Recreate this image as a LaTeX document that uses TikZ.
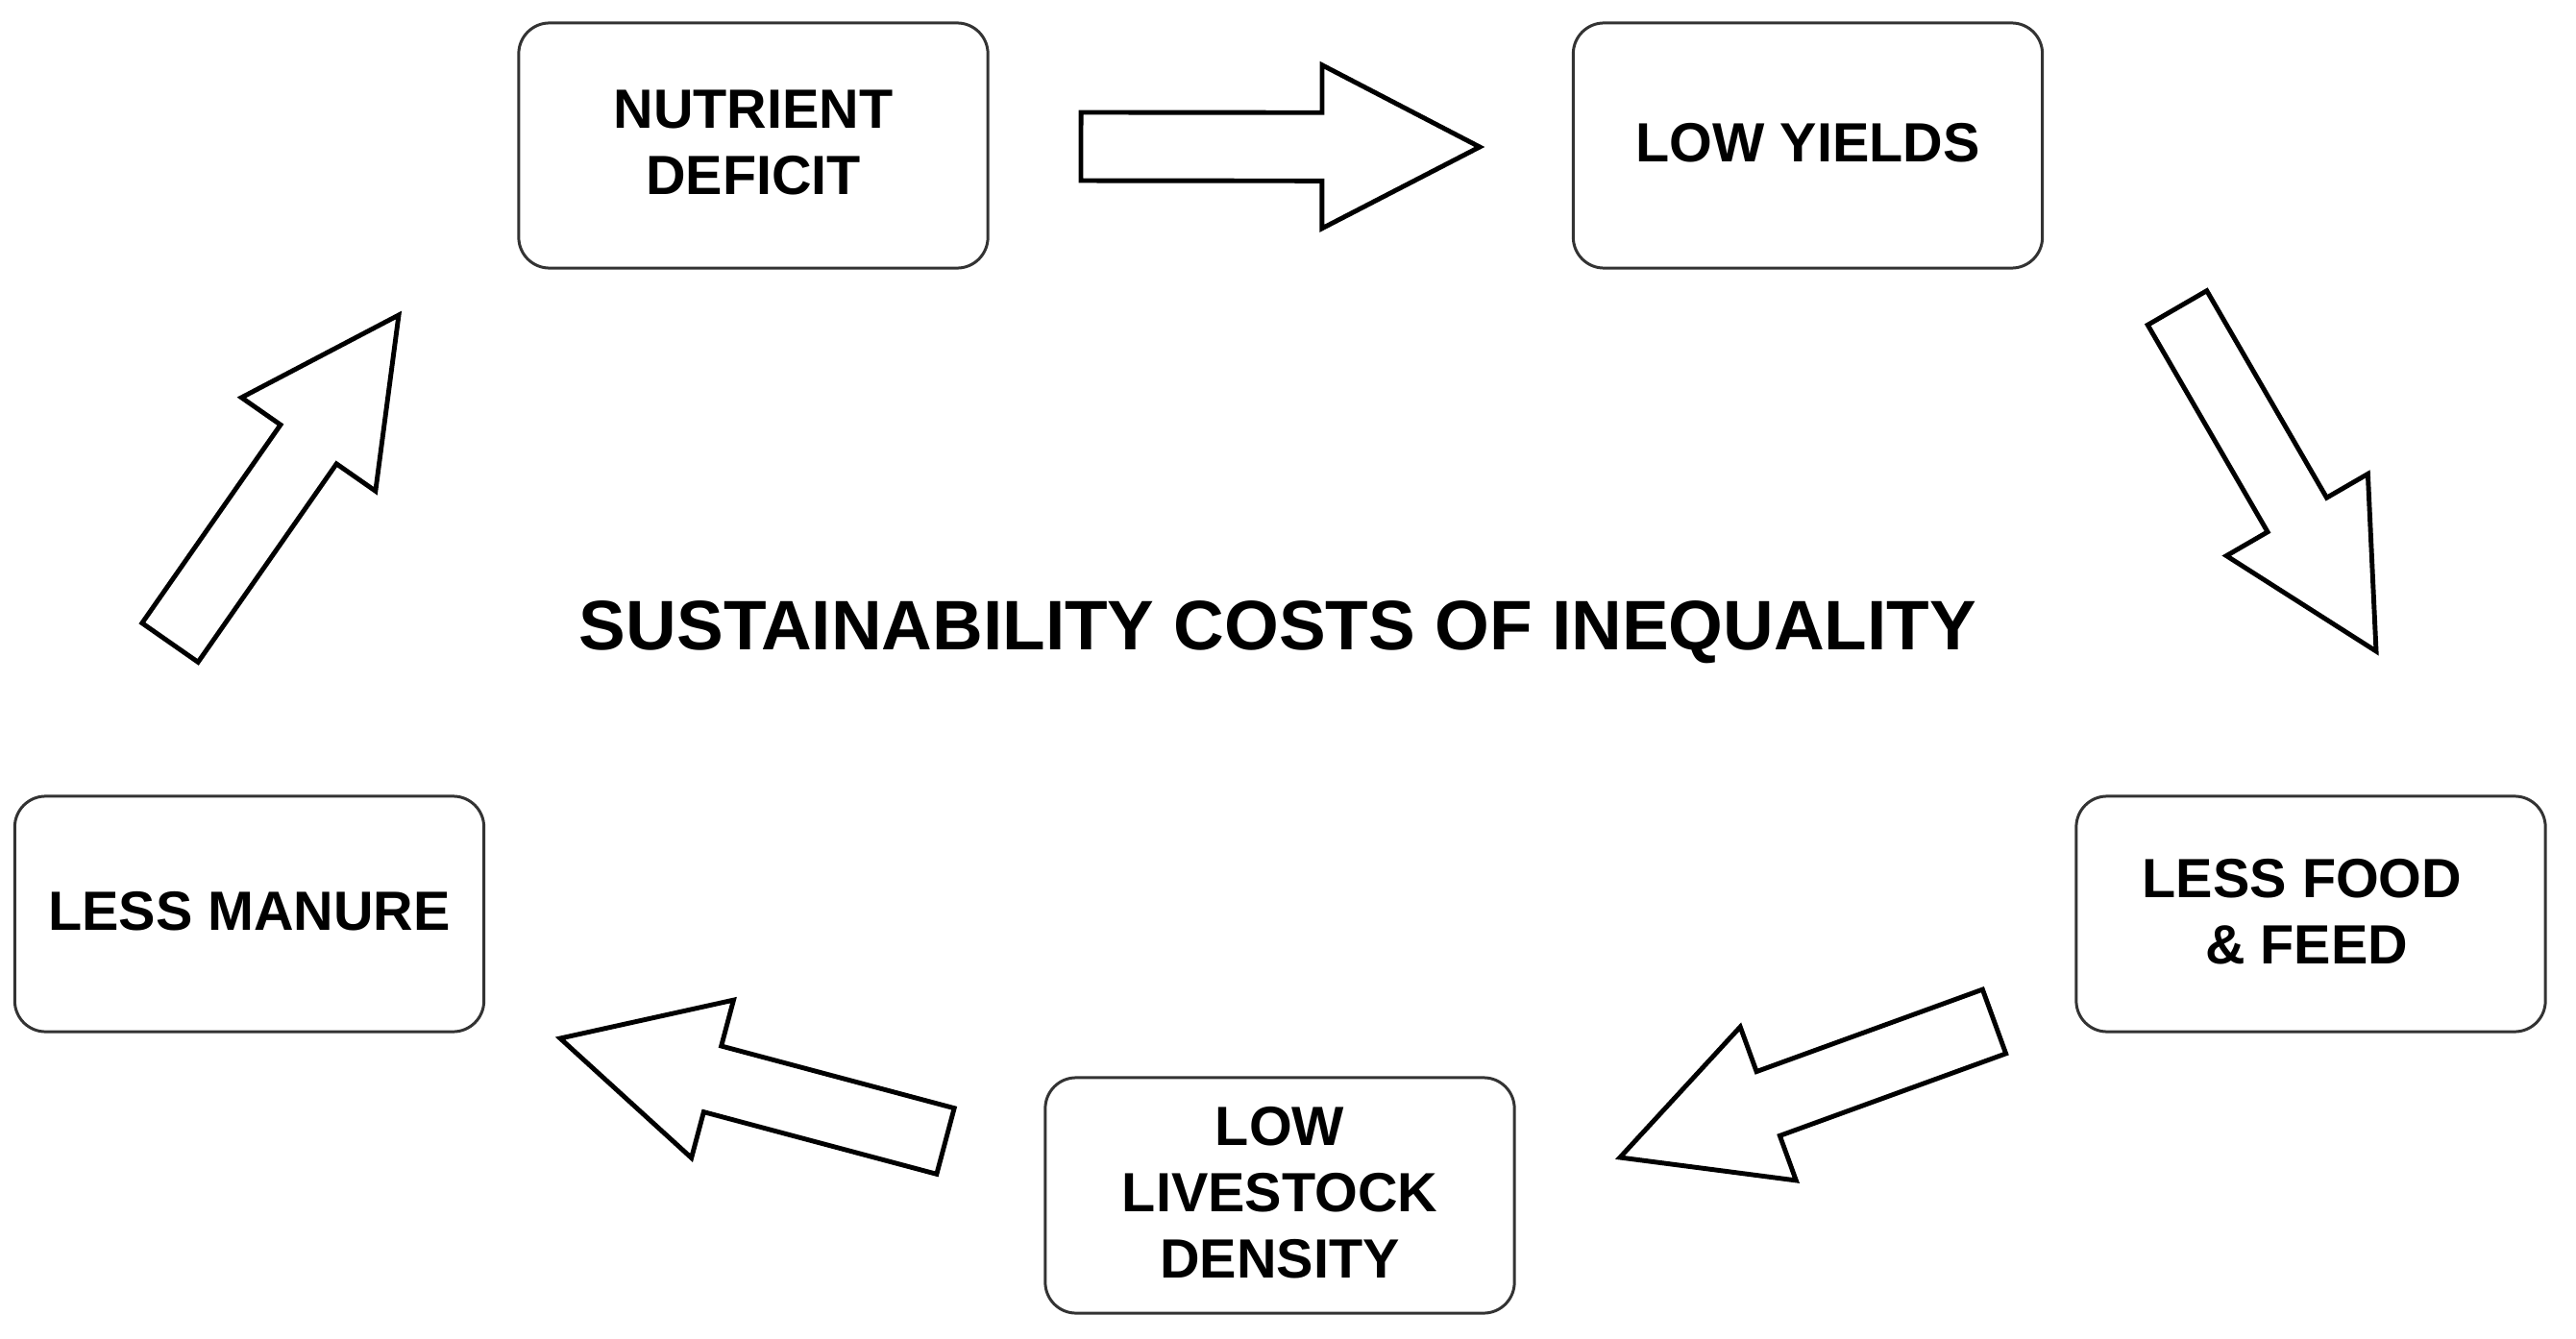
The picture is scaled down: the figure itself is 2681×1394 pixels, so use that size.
\documentclass[tikz,border=0pt]{standalone}
\usepackage{fontspec}
\setmainfont{Liberation Sans}
\usetikzlibrary{calc}
\tikzset{
  stagebox/.style={draw=black!80, line width=0.85pt, rounded corners=0.32cm, fill=white,
    minimum width=4.88cm, align=center, inner sep=0pt,
    font=\bfseries\fontsize{16.36}{19.6}\selectfont},
  tallbox/.style={stagebox, minimum height=2.55cm},
  lowbox/.style={stagebox, minimum height=2.45cm},
  titletext/.style={font=\bfseries\fontsize{20.75}{24}\selectfont, inner sep=0pt},
  blockarr/.style={draw=black, line width=1.4pt, fill=white, line join=miter}
}
\newcommand\myblockarrow[2]{%
  \coordinate (#1hb) at ($(#2)!1.64cm!(#1)$);
  \draw[blockarr] ($(#1)!0.355cm!90:(#2)$) -- ($(#1hb)!0.355cm!90:(#2)$)
     -- ($(#1hb)!0.85cm!90:(#2)$) -- (#2) -- ($(#1hb)!0.85cm!-90:(#2)$)
     -- ($(#1hb)!0.355cm!-90:(#2)$) -- ($(#1)!0.355cm!-90:(#2)$) -- cycle;
}
\begin{document}
\begin{tikzpicture}[x=0.01cm, y=-0.01cm]
\useasboundingbox (0,0) rectangle (2681,1394);
% boxes
\node[tallbox] (nutrient) at (784,151.5) {NUTRIENT\\DEFICIT\rule[-0.06cm]{0pt}{0pt}};
\node[tallbox] (yields) at (1881.5,151.5) {LOW YIELDS\rule[-0.06cm]{0pt}{0pt}};
\node[lowbox] (food) at (2405,951.5) {LESS FOOD\hspace*{0.18cm}\\\,\& FEED\hspace*{0.18cm}\rule[-0.06cm]{0pt}{0pt}};
\node[lowbox] (livestock) at (1332,1244.5) {LOW\\LIVESTOCK\\DENSITY\rule[-0.06cm]{0pt}{0pt}};
\node[lowbox] (manure) at (259.5,951.5) {LESS MANURE\rule[-0.06cm]{0pt}{0pt}};
% title
\node[titletext] (title) at (1330,658) {SUSTAINABILITY COSTS OF INEQUALITY};
% arrow end points
\coordinate (a1t) at (1125,152.5);
\coordinate (a1e) at (1540,153);
\coordinate (a2t) at (2266,320.5);
\coordinate (a2e) at (2473,678);
\coordinate (a3t) at (2075.5,1063.5);
\coordinate (a3e) at (1686,1205);
\coordinate (a4t) at (984,1188);
\coordinate (a4e) at (583,1081);
\coordinate (a5t) at (177,669);
\coordinate (a5e) at (415,328);
\myblockarrow{a1t}{a1e}
\myblockarrow{a2t}{a2e}
\myblockarrow{a3t}{a3e}
\myblockarrow{a4t}{a4e}
\myblockarrow{a5t}{a5e}
\end{tikzpicture}
\end{document}
